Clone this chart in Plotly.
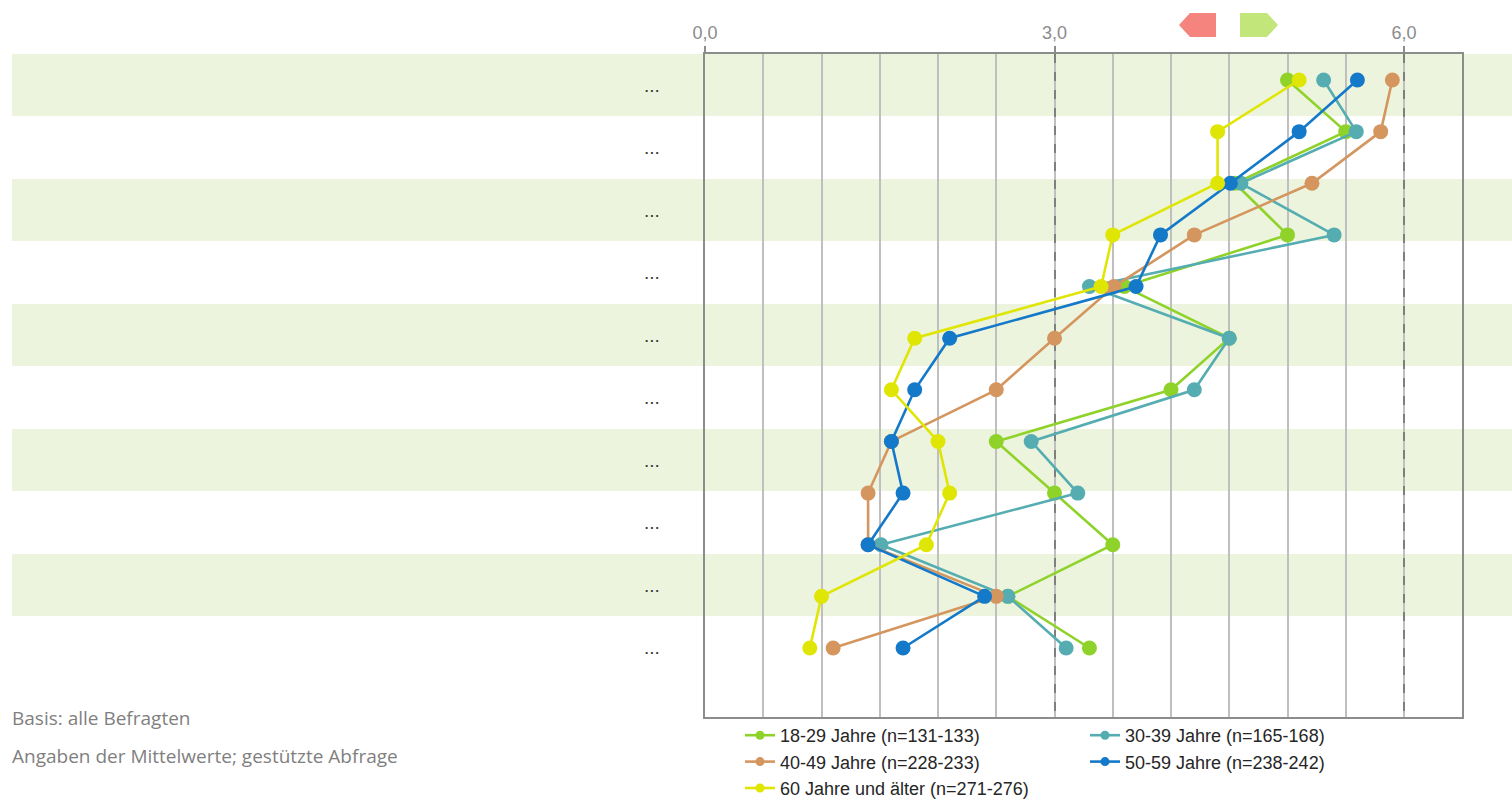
import plotly.graph_objects as go

W, H = 1512, 802

# ---- data -------------------------------------------------------------
row_pos = list(range(12))  # item positions (top to bottom)

series_names = [
    "18-29 Jahre (n=131-133)",
    "30-39 Jahre (n=165-168)",
    "40-49 Jahre (n=228-233)",
    "50-59 Jahre (n=238-242)",
    "60 Jahre und älter (n=271-276)",
]
v_18_29 = [5.00, 5.50, 4.55, 5.00, 3.60, 4.50, 4.00, 2.50, 3.00, 3.50, 2.60, 3.30]
v_30_39 = [5.31, 5.59, 4.60, 5.40, 3.30, 4.50, 4.20, 2.80, 3.20, 1.51, 2.60, 3.10]
v_40_49 = [5.90, 5.80, 5.21, 4.20, 3.51, 3.00, 2.50, 1.60, 1.40, 1.40, 2.50, 1.10]
v_50_59 = [5.60, 5.10, 4.51, 3.91, 3.70, 2.10, 1.80, 1.60, 1.70, 1.40, 2.40, 1.70]
v_60plus = [5.10, 4.40, 4.40, 3.50, 3.40, 1.80, 1.60, 2.00, 2.10, 1.90, 1.00, 0.90]

category_labels = ["..."] * 10
x_tickvals = [0, 3, 6]
x_ticktext = ["0,0", "3,0", "6,0"]

notes = ["Basis: alle Befragten", "Angaben der Mittelwerte; gestützte Abfrage"]

colors = ["#8FD22A", "#55ADB2", "#D4965E", "#1479C9", "#E0E604"]
legend_column = ["legend", "legend2", "legend", "legend2", "legend"]

# ---- layout geometry (pixels) ---------------------------------------
PL, PR, PT, PB = 705, 1462, 54, 717
ph = PB - PT


def px(x):
    return x / W


def py(y):
    return (PB - y) / ph


fig = go.Figure()
all_vals = [v_18_29, v_30_39, v_40_49, v_50_59, v_60plus]
for name, vals, col in zip(series_names, all_vals, colors):
    fig.add_trace(go.Scatter(
        x=vals, y=row_pos, name=name, mode="lines+markers",
        line=dict(color=col, width=2.6),
        marker=dict(color=col, size=15),
        cliponaxis=False, showlegend=False,
    ))
# legend entries (small symbols as in the reference)
for name, col, lg in zip(series_names, colors, legend_column):
    fig.add_trace(go.Scatter(
        x=[None], y=[None], name=name, mode="lines+markers",
        line=dict(color=col, width=2.6), marker=dict(color=col, size=9),
        legend=lg, legendgroup=name, showlegend=True,
    ))

shapes = []
# alternating light green bands
band_h = 62.5
n_rows = len(category_labels)
for i in range(0, n_rows, 2):
    y0 = PT + i * band_h
    shapes.append(dict(type="rect", xref="paper", yref="paper",
                       x0=px(12), x1=1.0, y0=py(y0 + 62), y1=py(y0),
                       fillcolor="#EDF4DE", line=dict(width=0), layer="below"))

# top arrows
def pent(x0, x1, xtip, y0, y1, left):
    ym = (y0 + y1) / 2
    if left:
        pts = [(x1, y0), (xtip, y0), (x0, ym), (xtip, y1), (x1, y1)]
    else:
        pts = [(x0, y0), (xtip, y0), (x1, ym), (xtip, y1), (x0, y1)]
    d = "M " + " L ".join(f"{px(a):.5f},{py(b):.5f}" for a, b in pts) + " Z"
    return d

shapes.append(dict(type="path", xref="paper", yref="paper",
                   path=pent(1179, 1216, 1190, 13, 37, True),
                   fillcolor="#F5837E", line=dict(width=0)))
shapes.append(dict(type="path", xref="paper", yref="paper",
                   path=pent(1240, 1278, 1267, 13, 37, False),
                   fillcolor="#C3E67A", line=dict(width=0)))

annotations = []
for i, lab in enumerate(category_labels):
    annotations.append(dict(text=lab, xref="paper", yref="paper",
                            x=px(652), y=py(PT + band_h * (i + 0.5)),
                            xanchor="center", yanchor="middle", showarrow=False,
                            font=dict(family="Liberation Sans", size=19, color="#3A3A3A")))
for txt, yy in zip(notes, [718, 756]):
    annotations.append(dict(text=txt, xref="paper", yref="paper",
                            x=px(10), y=py(yy), xanchor="left", yanchor="middle",
                            showarrow=False,
                            font=dict(family="Open Sans", size=19, color="#7F7F7F")))

# y range such that row 0 -> 80px, row 11 -> 648px
unit = (648 - 80) / 11
y_top = 0 - (80 - PT) / unit
y_bot = 11 + (PB - 648) / unit

legend_font = dict(family="Liberation Sans", size=18, color="#262626")
fig.update_layout(
    width=W, height=H,
    margin=dict(l=0, r=0, t=PT, b=H - PB, pad=0, autoexpand=False),
    paper_bgcolor="white", plot_bgcolor="rgba(0,0,0,0)",
    shapes=shapes, annotations=annotations,
    showlegend=True,
    legend=dict(orientation="v", x=px(740), y=py(717), xanchor="left", yanchor="top",
                tracegroupgap=0, font=legend_font, bgcolor="rgba(0,0,0,0)"),
    legend2=dict(orientation="v", x=px(1085), y=py(717), xanchor="left", yanchor="top",
                 tracegroupgap=0, font=legend_font, bgcolor="rgba(0,0,0,0)"),
    xaxis=dict(domain=[px(PL), px(PR)], range=[0, (PR - PL) / ((1404 - 705) / 6)],
               side="top", tickvals=x_tickvals, ticktext=x_ticktext,
               ticks="outside", ticklen=6, tickwidth=2, tickcolor="#8C8C8C",
               tickfont=dict(family="Liberation Sans", size=18, color="#8C8C8C"),
               showgrid=True, gridcolor="#7F7F7F", griddash="dash", gridwidth=1.5,
               minor=dict(dtick=0.5, showgrid=True, gridcolor="#BFBFBF", gridwidth=2,
                          griddash="solid"),
               showline=True, linecolor="#8C8C8C", linewidth=2, mirror=True,
               zeroline=False, fixedrange=True),
    yaxis=dict(range=[y_bot, y_top], showticklabels=False, ticks="",
               showgrid=False, zeroline=False,
               showline=True, linecolor="#8C8C8C", linewidth=2, mirror=True),
)

fig.write_html("out.html")
